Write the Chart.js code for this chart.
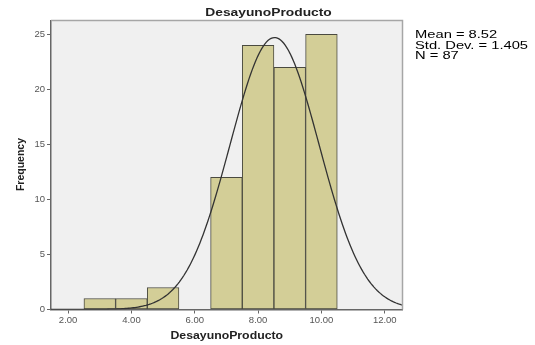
<!DOCTYPE html>
<html>
<head>
<meta charset="utf-8">
<style>
  html, body { margin: 0; padding: 0; background: #fff; }
  #wrap { width: 535px; height: 345px; }
</style>
<script src="https://cdn.jsdelivr.net/npm/chart.js@4/dist/chart.umd.min.js"></script>
</head>
<body>
<div id="wrap"><canvas id="hist" width="535" height="345"></canvas></div>
<script>
// Histogram bins (bin centres, width 1) and their frequencies
const binCenters = [3, 4, 5, 7, 8, 9, 10];
const frequencies = [1, 1, 2, 12, 24, 22, 25];
const binWidth = 1;

// Summary statistics shown in the side box
const MEAN = 8.52;
const STD_DEV = 1.405;
const N = 87;

// Axis ticks
const xTicks = [2, 4, 6, 8, 10, 12];
const yTicks = [0, 5, 10, 15, 20, 25];

const chartTitle = 'DesayunoProducto';
const xTitle = 'DesayunoProducto';
const yTitle = 'Frequency';
const statLines = ['Mean = ' + MEAN.toFixed(2), 'Std. Dev. = ' + STD_DEV.toFixed(3), 'N = ' + N];

const X_MIN = 1.46, X_MAX = 12.56, Y_MAX = 26.25;

// Fitted normal curve scaled to counts (N * binWidth * pdf)
const curve = [];
for (let i = 0; i <= 222; i++) {
  const x = X_MIN + (X_MAX - X_MIN) * i / 222;
  const z = (x - MEAN) / STD_DEV;
  curve.push({ x: x, y: N * binWidth * Math.exp(-0.5 * z * z) / (STD_DEV * Math.sqrt(2 * Math.PI)) });
}

const bars = binCenters.map((c, i) => ({ x: c, y: frequencies[i] }));

const FONT = '"Liberation Sans", Arial, sans-serif';

function stretchedText(ctx, text, x, y, font, sx, align) {
  ctx.save();
  ctx.font = font;
  ctx.textBaseline = 'alphabetic';
  ctx.textAlign = 'left';
  const w = ctx.measureText(text).width * sx;
  let left = x;
  if (align === 'center') left = x - w / 2;
  ctx.translate(left, y);
  ctx.scale(sx, 1);
  ctx.fillText(text, 0, 0);
  ctx.restore();
}

const framePlugin = {
  id: 'frame',
  beforeDraw(chart) {
    const { ctx, chartArea: a } = chart;
    ctx.save();
    ctx.fillStyle = '#f0f0f0';
    ctx.fillRect(a.left, a.top, a.right - a.left, a.bottom - a.top);
    ctx.restore();
  },
  afterDraw(chart) {
    const { ctx, chartArea: a } = chart;
    ctx.save();
    ctx.strokeStyle = '#a6a6a6';
    ctx.lineWidth = 1.5;
    ctx.beginPath();
    ctx.moveTo(a.left, a.top);
    ctx.lineTo(a.right, a.top);
    ctx.lineTo(a.right, a.bottom);
    ctx.stroke();

    ctx.fillStyle = '#222';
    stretchedText(ctx, chartTitle, 268.5, 16, 'bold 11.5px ' + FONT, 1.2, 'center');
    stretchedText(ctx, xTitle, (a.left + a.right) / 2, 339, 'bold 10.5px ' + FONT, 1.17, 'center');

    ctx.fillStyle = '#000';
    const base = [38, 48.5, 59];
    statLines.forEach((s, i) => stretchedText(ctx, s, 415, base[i], '11.5px ' + FONT, 1.28, 'left'));

    ctx.fillStyle = '#222';
    ctx.translate(24, 164.5);
    ctx.rotate(-Math.PI / 2);
    ctx.font = 'bold 10.5px ' + FONT;
    ctx.textAlign = 'center';
    ctx.textBaseline = 'alphabetic';
    ctx.fillText(yTitle, 0, 0);
    ctx.restore();
  }
};

new Chart(document.getElementById('hist'), {
  data: {
    datasets: [
      {
        type: 'line',
        data: curve,
        borderColor: '#333333',
        borderWidth: 1.3,
        pointRadius: 0,
        tension: 0,
        fill: false,
        order: 0
      },
      {
        type: 'bar',
        data: bars,
        backgroundColor: '#d3ce97',
        borderColor: '#4a4a40',
        borderWidth: 1,
        borderSkipped: false,
        barPercentage: 1,
        categoryPercentage: 1,
        order: 1
      }
    ]
  },
  options: {
    responsive: false,
    animation: false,
    devicePixelRatio: 1,
    layout: { padding: { left: 0, top: 20.5, right: 132.5, bottom: 0 } },
    plugins: { legend: { display: false }, title: { display: false }, tooltip: { enabled: false } },
    scales: {
      x: {
        type: 'linear',
        offset: false,
        min: X_MIN,
        max: X_MAX,
        afterBuildTicks: s => { s.ticks = xTicks.map(v => ({ value: v })); },
        afterFit: s => { s.height = 35.5; },
        ticks: {
          callback: v => Number(v).toFixed(2),
          color: '#555',
          font: { family: FONT, size: 9.5 },
          padding: 1,
          maxRotation: 0,
          autoSkip: false
        },
        grid: { offset: false, drawOnChartArea: false, drawTicks: true, tickLength: 4, color: '#666', lineWidth: 1 },
        border: { display: true, color: '#666', width: 1.5 }
      },
      y: {
        type: 'linear',
        min: 0,
        max: Y_MAX,
        afterBuildTicks: s => { s.ticks = yTicks.map(v => ({ value: v })); },
        afterFit: s => { s.width = 51; },
        ticks: {
          color: '#555',
          font: { family: FONT, size: 9.5 },
          padding: 2
        },
        grid: { drawOnChartArea: false, drawTicks: true, tickLength: 4, color: '#666', lineWidth: 1 },
        border: { display: true, color: '#666', width: 1.5 }
      }
    }
  },
  plugins: [framePlugin]
});
</script>
</body>
</html>
